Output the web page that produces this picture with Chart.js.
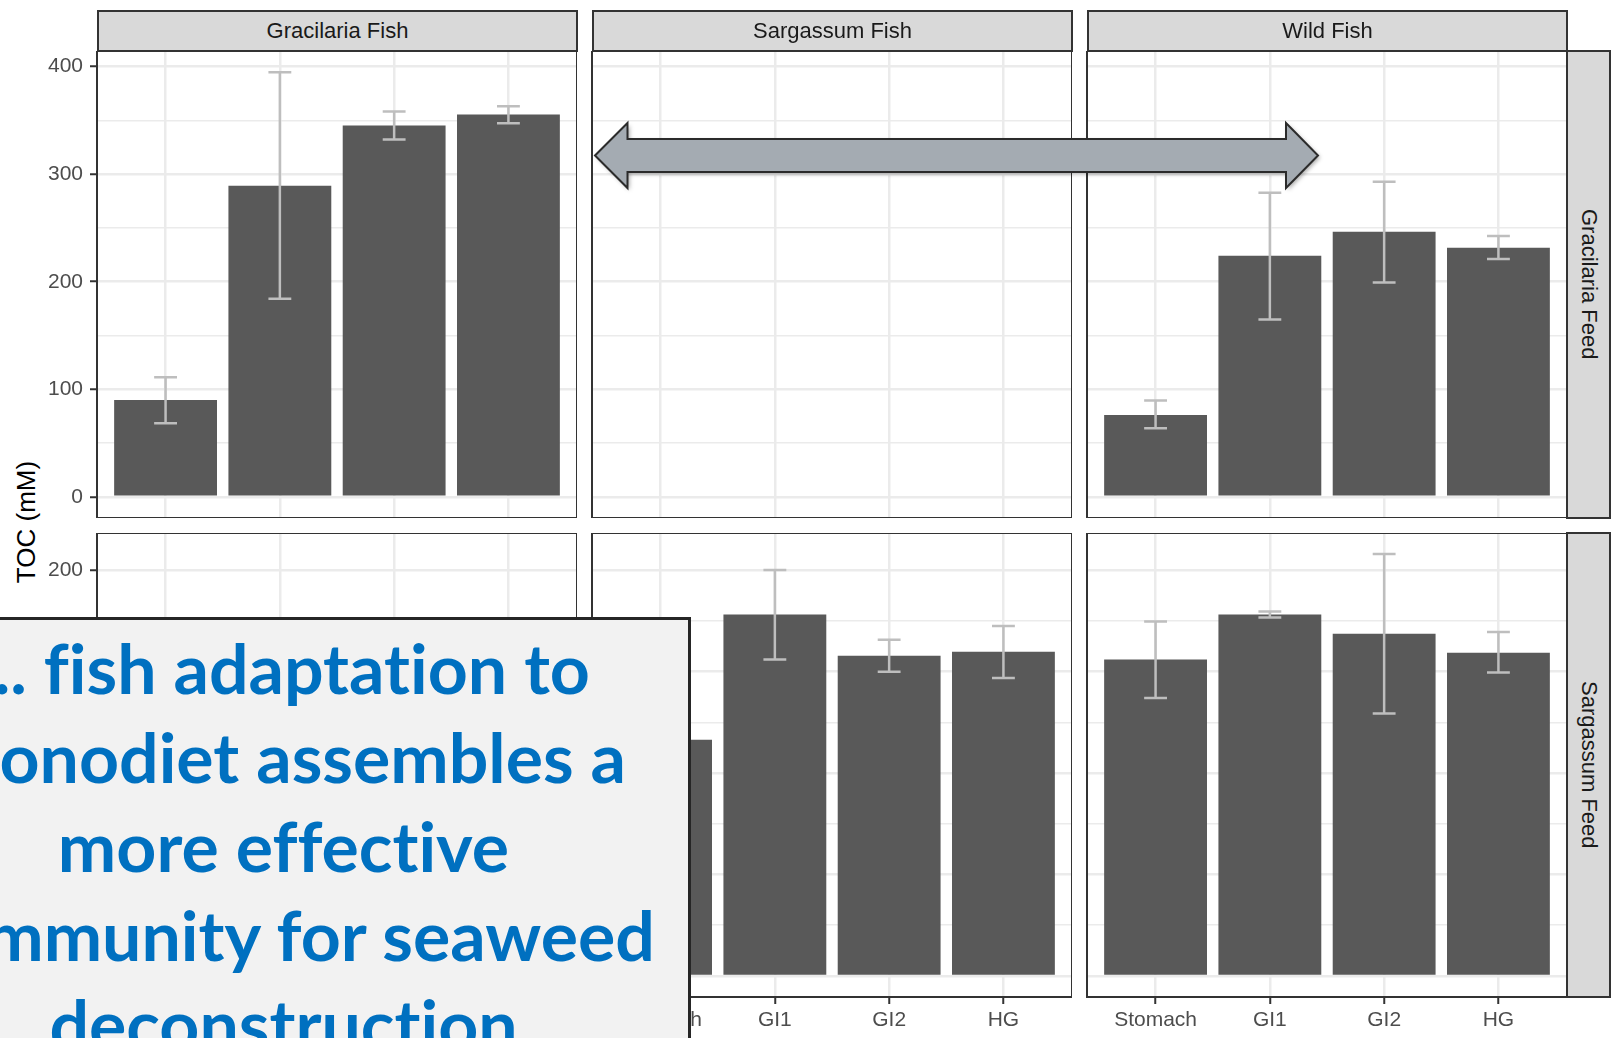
<!DOCTYPE html>
<html>
<head>
<meta charset="utf-8">
<script src="https://cdn.jsdelivr.net/npm/chart.js@4.4.1/dist/chart.umd.min.js"></script>
<style>
  html, body { margin: 0; padding: 0; background: #fff; }
  body { width: 1614px; height: 1038px; overflow: hidden; position: relative; font-family: "Liberation Sans", Arial, sans-serif; }
  canvas.panel { position: absolute; }
  .strip { position: absolute; box-sizing: border-box; border: 2px solid #333; background: #d9d9d9;
           color: #1a1a1a; font-size: 22px; display: flex; align-items: center; justify-content: center; }
  .strip.right span { writing-mode: vertical-rl; }
  #ytitle { position: absolute; left: 26px; top: 522px; transform: translate(-50%, -50%) rotate(-90deg);
            font-size: 26px; color: #000; white-space: nowrap; }
  #arrow { position: absolute; left: 0; top: 0; pointer-events: none; }
  #note { position: absolute; left: -124px; top: 617px; width: 815px; height: 460px; box-sizing: border-box;
          border: 3px solid #262626; background: #f2f2f2; overflow: hidden; }
  #note div { font-family: Lato, "Open Sans", sans-serif; font-weight: 700; color: #0070c0;
              text-align: center; line-height: 89px; white-space: nowrap;
              font-variant-ligatures: none; font-feature-settings: "liga" 0, "dlig" 0; }
</style>
</head>
<body>
<div id="ytitle">TOC (mM)</div>
<canvas id="arrow" width="1614" height="1038"></canvas>
<div id="note"><div id="noteText">... fish adaptation to<br>monodiet assembles a<br>more effective<br>community for seaweed<br>deconstruction</div></div>

<script>
// ---- data ----
const CATEGORIES = ['Stomach', 'GI1', 'GI2', 'HG'];
const FISH = ['Gracilaria Fish', 'Sargassum Fish', 'Wild Fish'];
const FEED = ['Gracilaria Feed', 'Sargassum Feed'];

// Gracilaria feed row
const GF_GRAC      = [90.1, 289.3, 345.2, 355.4];
const GF_GRAC_LO   = [68.4, 184.1, 332.2, 347.3];
const GF_GRAC_HI   = [111.2, 394.8, 358.2, 363.2];
const GF_WILD      = [76.1, 224.2, 246.5, 231.6];
const GF_WILD_LO   = [63.8, 164.9, 199.3, 221.1];
const GF_WILD_HI   = [89.5, 282.8, 293.0, 242.5];

// Sargassum feed row
const SF_SARG      = [116.4, 178.1, 157.8, 159.8];
const SF_SARG_LO   = [106.0, 155.9, 149.9, 146.8];
const SF_SARG_HI   = [126.0, 200.0, 165.7, 172.5];
const SF_WILD      = [155.9, 178.1, 168.6, 159.3];
const SF_WILD_LO   = [137.0, 176.7, 129.3, 149.5];
const SF_WILD_HI   = [174.7, 179.6, 207.9, 169.5];

const Y_MAJOR = [[0, 100, 200, 300, 400], [0, 50, 100, 150, 200]];
const Y_MINOR = [[50, 150, 250, 350], [25, 75, 125, 175]];

// panels: [row][col]
const PANELS = [
  [ { v: GF_GRAC, lo: GF_GRAC_LO, hi: GF_GRAC_HI }, null, { v: GF_WILD, lo: GF_WILD_LO, hi: GF_WILD_HI } ],
  [ null, { v: SF_SARG, lo: SF_SARG_LO, hi: SF_SARG_HI }, { v: SF_WILD, lo: SF_WILD_LO, hi: SF_WILD_HI } ]
];

// ---- layout ----
const COL_X = [97, 592, 1087], COL_W = 480;
const ROW_Y = [51, 533], ROW_H = [467, 464];
const AXIS_W = 100, AXIS_H = 45;

const errorBars = {
  id: 'errorBars',
  afterDatasetsDraw(chart) {
    const p = chart.options.plugins.errorBars;
    if (!p || !p.lo) return;
    const xs = chart.scales.x, ys = chart.scales.y, ctx = chart.ctx;
    const half = 0.1 * (xs.getPixelForValue(2) - xs.getPixelForValue(1));
    ctx.save();
    ctx.strokeStyle = '#bebebe';
    ctx.lineWidth = 2.5;
    p.lo.forEach((lo, i) => {
      const x = xs.getPixelForValue(i + 1);
      const y1 = ys.getPixelForValue(lo), y2 = ys.getPixelForValue(p.hi[i]);
      ctx.beginPath();
      ctx.moveTo(x, y1); ctx.lineTo(x, y2);
      ctx.moveTo(x - half, y1); ctx.lineTo(x + half, y1);
      ctx.moveTo(x - half, y2); ctx.lineTo(x + half, y2);
      ctx.stroke();
    });
    ctx.restore();
  }
};

const panelBorder = {
  id: 'panelBorder',
  afterDraw(chart) {
    const a = chart.chartArea, ctx = chart.ctx;
    ctx.save();
    ctx.strokeStyle = '#333';
    ctx.lineWidth = 2;
    ctx.strokeRect(a.left, a.top, a.right - a.left, a.bottom - a.top);
    ctx.restore();
  }
};

function rowLimits(r) {
  let top = 0;
  PANELS[r].forEach(p => { if (p) top = Math.max(top, ...p.hi); });
  return [-0.05 * top, 1.05 * top];   // ggplot default 5% expansion
}

function makePanel(r, c) {
  const p = PANELS[r][c];
  const bottom = r === 1;
  const left = c === 0;
  const cv = document.createElement('canvas');
  cv.className = 'panel';
  const w = COL_W + AXIS_W, h = ROW_H[r] + (bottom ? AXIS_H : 0);
  cv.width = w; cv.height = h;
  cv.style.left = (COL_X[c] - AXIS_W) + 'px';
  cv.style.top = ROW_Y[r] + 'px';
  document.body.insertBefore(cv, document.getElementById('arrow'));

  const [ymin, ymax] = rowLimits(r);
  const major = Y_MAJOR[r], minor = Y_MINOR[r];
  const font = { family: '"Liberation Sans", Arial, sans-serif', size: 21 };

  new Chart(cv.getContext('2d'), {
    type: 'bar',
    data: {
      datasets: [{
        data: p ? p.v.map((v, i) => ({ x: i + 1, y: v })) : [],
        backgroundColor: '#595959',
        borderWidth: 0,
        barPercentage: 0.9,
        categoryPercentage: 1.0
      }]
    },
    options: {
      responsive: false, animation: false, devicePixelRatio: 1,
      layout: { padding: 0 },
      plugins: { legend: { display: false }, tooltip: { enabled: false },
                 errorBars: p ? { lo: p.lo, hi: p.hi } : {} },
      scales: {
        x: {
          type: 'linear', min: 0.4, max: 4.6, offset: false,
          border: { display: false },
          grid: { color: '#ebebeb', lineWidth: 2.5, offset: false,
                  drawTicks: bottom, tickLength: 7, tickColor: '#333', tickWidth: 2 },
          ticks: { display: bottom, font, color: '#4d4d4d', padding: 4, autoSkip: false, maxRotation: 0,
                   callback: v => CATEGORIES[v - 1] || '' },
          afterBuildTicks: s => { s.ticks = CATEGORIES.map((_, i) => ({ value: i + 1 })); },
          afterFit: s => { s.height = bottom ? AXIS_H : 0; s.paddingLeft = 0; s.paddingRight = 0; }
        },
        y: {
          type: 'linear', min: ymin, max: ymax,
          border: { display: false },
          grid: { color: '#ebebeb',
                  lineWidth: k => major.includes(k.tick.value) ? 2.5 : 1.5,
                  drawTicks: left, tickLength: 7, tickWidth: 2,
                  tickColor: k => major.includes(k.tick.value) ? '#333' : 'rgba(0,0,0,0)' },
          ticks: { display: left, font, color: '#4d4d4d', padding: 7,
                   callback: v => major.includes(v) ? String(v) : '' },
          afterBuildTicks: s => { s.ticks = major.concat(minor).sort((a, b) => a - b).map(v => ({ value: v })); },
          afterFit: s => { s.width = AXIS_W; s.paddingTop = 0; s.paddingBottom = 0; }
        }
      }
    },
    plugins: [errorBars, panelBorder]
  });
}

for (let r = 0; r < 2; r++) for (let c = 0; c < 3; c++) makePanel(r, c);

// strips
FISH.forEach((name, c) => {
  const d = document.createElement('div');
  d.className = 'strip';
  Object.assign(d.style, { left: COL_X[c] + 'px', top: '10px', width: (COL_W + 1) + 'px', height: '42px' });
  d.textContent = name;
  document.body.insertBefore(d, document.getElementById('arrow'));
});
FEED.forEach((name, r) => {
  const d = document.createElement('div');
  d.className = 'strip right';
  Object.assign(d.style, { left: (COL_X[2] + COL_W - 1) + 'px', top: (ROW_Y[r] - 1) + 'px', width: '45px', height: (ROW_H[r] + 2) + 'px' });
  d.innerHTML = '<span>' + name + '</span>';
  document.body.insertBefore(d, document.getElementById('arrow'));
});

// double arrow annotation
(function () {
  const ctx = document.getElementById('arrow').getContext('2d');
  const yc = 155.5, hT = 123, hB = 188, sT = 139, sB = 172;
  ctx.save();
  ctx.beginPath();
  ctx.moveTo(595, yc);
  ctx.lineTo(627.5, hT); ctx.lineTo(627.5, sT); ctx.lineTo(1286, sT); ctx.lineTo(1286, hT);
  ctx.lineTo(1318, yc);
  ctx.lineTo(1286, hB); ctx.lineTo(1286, sB); ctx.lineTo(627.5, sB); ctx.lineTo(627.5, hB);
  ctx.closePath();
  ctx.shadowColor = 'rgba(0,0,0,0.35)'; ctx.shadowBlur = 4; ctx.shadowOffsetX = 2; ctx.shadowOffsetY = 2;
  ctx.fillStyle = '#a4abb2';
  ctx.fill();
  ctx.shadowColor = 'transparent';
  ctx.strokeStyle = '#2b2b2b'; ctx.lineWidth = 2; ctx.lineJoin = 'miter';
  ctx.stroke();
  ctx.restore();
})();

// note box text sizing: fit "more effective" to ~450px
(function () {
  const m = document.createElement('canvas').getContext('2d');
  m.font = '700 100px Lato, "Open Sans", sans-serif';
  const F = 100 * 450 / m.measureText('more effective').width;
  const t = document.getElementById('noteText');
  t.style.fontSize = F.toFixed(1) + 'px';
  // first baseline near y=694 (box top 617 + border 3)
  const baseInLine = (89 - 1.2 * F) / 2 + 0.987 * F;
  t.style.marginTop = (694 - 620 - baseInLine).toFixed(1) + 'px';
})();
</script>
</body>
</html>
